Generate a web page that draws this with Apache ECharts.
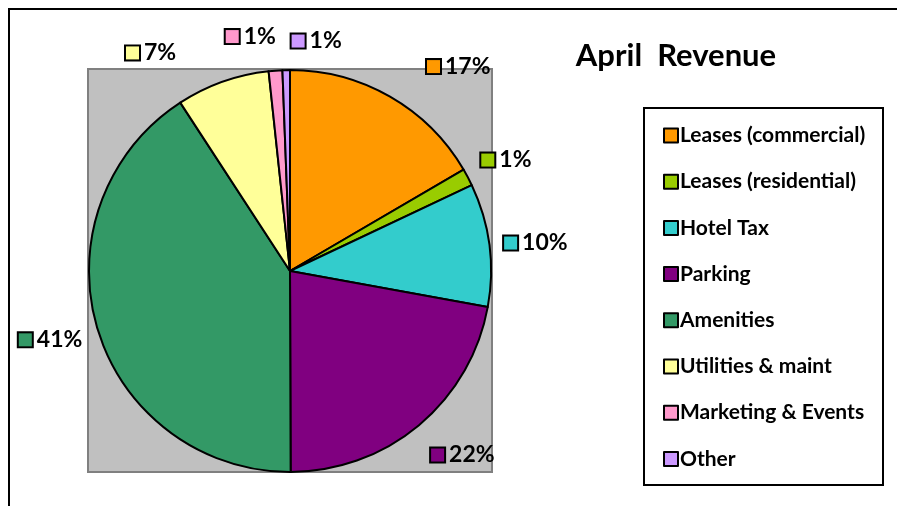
<!DOCTYPE html>
<html>
<head>
<meta charset="utf-8">
<title>April Revenue</title>
<script src="https://cdn.jsdelivr.net/npm/echarts@6/dist/echarts.min.js"></script>
<style>
  html, body { margin: 0; padding: 0; background: #fff; }
  #chart { width: 897px; height: 506px; }
</style>
</head>
<body>
<div id="chart"></div>
<script>
// data (percent of April revenue)
var categories = ['Leases (commercial)', 'Leases (residential)', 'Hotel Tax', 'Parking',
  'Amenities', 'Utilities & maint', 'Marketing & Events', 'Other'];
var revenue = [16.6, 1.4, 9.9, 22.1, 40.9, 7.5, 1.1, 0.6];
var colors = ['#FF9900', '#99CC00', '#33CCCC', '#800080', '#339966', '#FFFF99', '#FF99CC', '#CC99FF'];
var titleText = 'April  Revenue';

// small hand nudges so labels sit where the original put them
var labelNudge = [[26, -11], [-6, -7], [-7, 1], [-2, 13], [6, 5], [-39, -8], [2, -12], [56, -7]];

var FONT = 'Lato';
var chart = echarts.init(document.getElementById('chart'), null, { renderer: 'canvas' });

// little coloured box in front of each percent label
var rich = { t: { fontFamily: FONT, fontWeight: 'bold', fontSize: 23, color: '#000', padding: [0, 0, 0, 5] } };
colors.forEach(function (c, i) {
  rich['m' + i] = { width: 13, height: 13, backgroundColor: c, borderColor: '#000', borderWidth: 2 };
});

var option = {
  animation: false,
  color: colors,
  title: {
    text: titleText,
    left: 671, top: 35, textAlign: 'center',
    textStyle: { fontFamily: FONT, fontWeight: 'bold', fontSize: 31, color: '#000' }
  },
  legend: {
    orient: 'vertical',
    left: 658, top: 120,
    itemWidth: 14, itemHeight: 14,
    itemGap: 25.2,
    icon: 'rect',
    textStyle: { fontFamily: FONT, fontWeight: 'bold', fontSize: 21, color: '#000', lineHeight: 20, padding: [0, 0, 0, -3] },
    data: categories
  },
  graphic: [
    { type: 'polyline', z: -10, shape: { points: [[9, 506], [9, 9], [897, 9]] }, style: { stroke: '#000', lineWidth: 2, fill: null } },
    { type: 'rect', z: -10, shape: { x: 88, y: 69, width: 404, height: 403 }, style: { fill: '#C0C0C0', stroke: '#808080', lineWidth: 2 } },
    { type: 'rect', z: -10, shape: { x: 644, y: 108, width: 239, height: 377 }, style: { fill: '#fff', stroke: '#000', lineWidth: 2 } }
  ],
  series: [{
    type: 'pie',
    center: [290, 271],
    radius: 201,
    startAngle: 90,
    clockwise: true,
    avoidLabelOverlap: false,
    itemStyle: { borderColor: '#000', borderWidth: 2 },
    emphasis: { disabled: true },
    label: {
      show: true,
      position: 'outside',
      distanceToLabelLine: 0,
      formatter: function (p) {
        return '{m' + p.dataIndex + '|}{t|' + Math.round(p.percent) + '%}';
      },
      rich: rich
    },
    labelLine: { show: false, length: 22, length2: 0 },
    labelLayout: function (p) {
      var n = labelNudge[p.dataIndex];
      return { dx: n[0], dy: n[1] };
    },
    data: categories.map(function (name, i) {
      return { name: name, value: revenue[i] };
    })
  }]
};
chart.setOption(option);
</script>
</body>
</html>
